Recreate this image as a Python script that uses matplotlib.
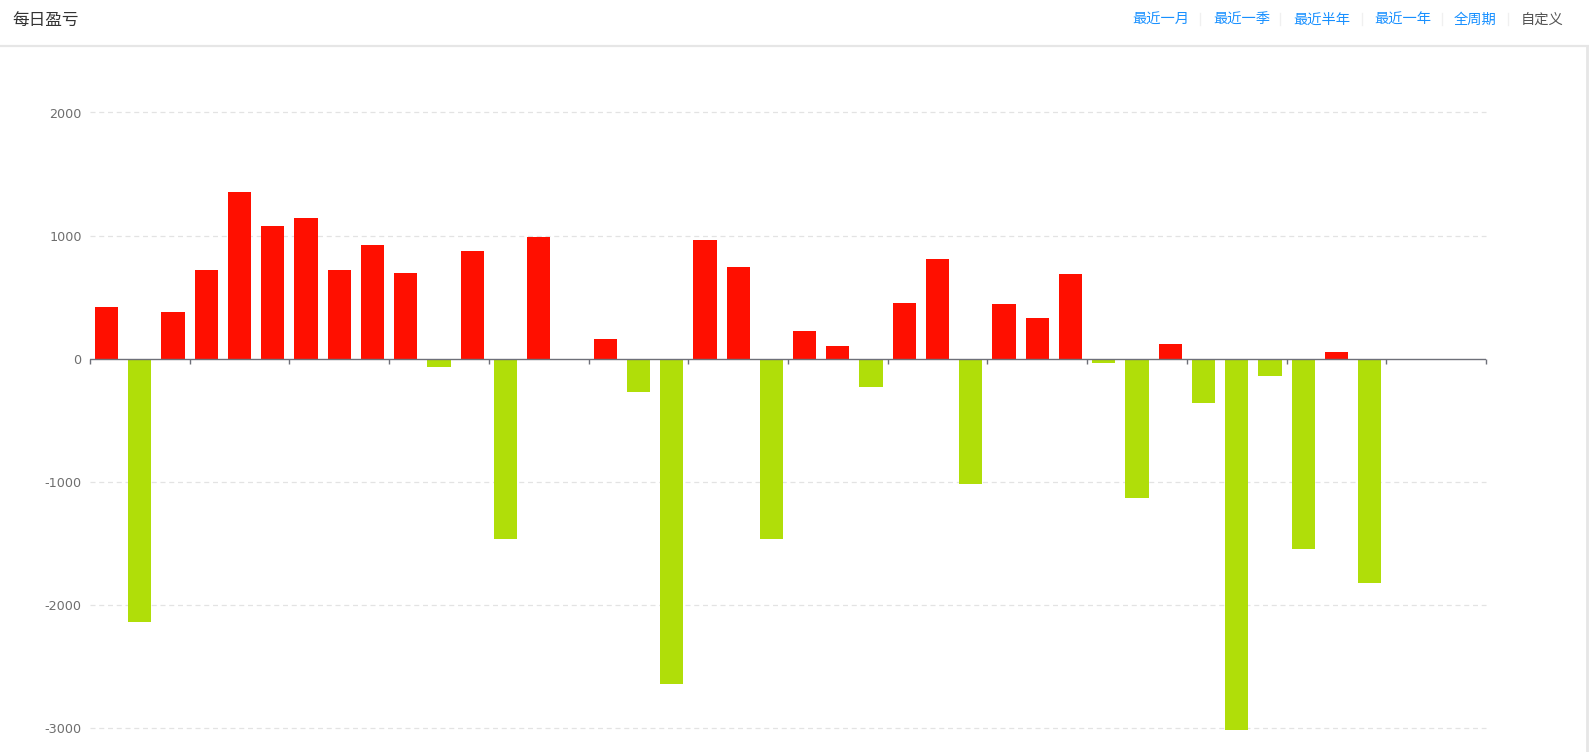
import matplotlib
matplotlib.use("Agg")
import matplotlib.pyplot as plt
from matplotlib.lines import Line2D

plt.rcParams['font.family'] = ['Noto Sans CJK SC', 'DejaVu Sans']

# ---- data ----
title = "每日盈亏"
links = ["最近一月", "最近一季", "最近半年", "最近一年", "全周期", "自定义"]
values = [420, -2140, 375, 720, 1355, 1075, 1145, 720, 925, 695,
          -65, 875, -1470, 985, 0, 160, -270, -2645, 960, 745,
          -1470, 220, 100, -230, 455, 810, -1020, 445, 330, 685,
          -40, -1135, 120, -360, -3020, -140, -1545, 50, -1825, 0,
          0, 0]
y_ticks = [-3000, -2000, -1000, 0, 1000, 2000]

W, H = 1589, 752
fig = plt.figure(figsize=(W / 100, H / 100), dpi=100)

def fx(px):
    return px / W

def fy(py):
    return 1 - py / H

# axes placement
left, right = 90, 1486
top, bottom = 112.5, 727.6
ax = fig.add_axes([fx(left), fy(bottom), fx(right - left), (bottom - top) / H])

pos_color = "#FF0F00"
neg_color = "#B0DE09"
x = list(range(len(values)))
colors = [pos_color if v >= 0 else neg_color for v in values]
ax.bar(x, values, width=0.7, color=colors, zorder=3, clip_on=False)

ax.set_xlim(-0.5, len(values) - 0.5)
ax.set_ylim(-3000, 2000)
ax.set_yticks(y_ticks)
ax.set_yticklabels([str(t) for t in y_ticks], color="#6e6e6e", fontsize=9.2,
                   family=['DejaVu Sans'])
ax.tick_params(axis='y', length=0, pad=6)
for t in y_ticks:
    if t != 0:
        ax.axhline(t, color="#e3e3e3", lw=0.9, ls=(0, (4, 3)), zorder=1,
                   clip_on=False)

for s in ax.spines.values():
    s.set_visible(False)
ax.axhline(0, color="#6e7079", lw=1.0, zorder=4)

# category boundary ticks on zero line
for b in range(0, len(values) + 1, 3):
    xb = b - 0.5
    ax.plot([xb, xb], [0, -45], color="#6e7079", lw=1.0, zorder=4,
            solid_capstyle='butt', clip_on=False)
ax.set_xticks([])

# ---- header ----
fig.text(fx(12), fy(24.5), title, fontsize=12, color="#333333", va='baseline', ha='left')
link_x = [1132, 1213, 1293, 1374, 1454, 1521]
seps = [1200, 1280, 1362, 1442, 1508]
for i, (lbl, lx) in enumerate(zip(links, link_x)):
    col = "#1890ff" if i < len(links) - 1 else "#555555"
    fig.text(fx(lx), fy(24), lbl, fontsize=10.3, color=col, va='baseline', ha='left')
for sx in seps:
    fig.add_artist(Line2D([fx(sx), fx(sx)], [fy(13), fy(25)], color="#f0f0f0", lw=1))

fig.add_artist(Line2D([0, 1], [fy(46), fy(46)], color="#e6e6e6", lw=1.6))
fig.add_artist(Line2D([fx(1587), fx(1587)], [fy(47), 0], color="#e6e6e6", lw=2))

fig.savefig("out.png", dpi=100, facecolor="white")
